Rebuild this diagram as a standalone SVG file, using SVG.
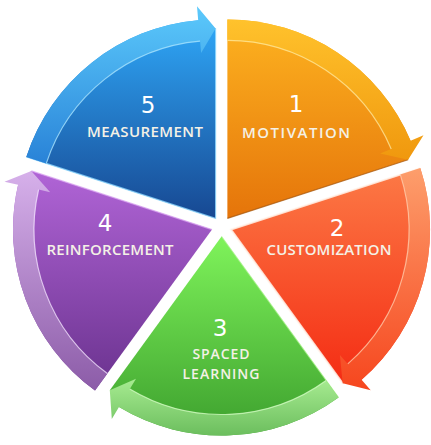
<svg xmlns="http://www.w3.org/2000/svg" width="431" height="445" viewBox="0 0 431 445">
<defs>
<linearGradient id="gMotB" gradientUnits="userSpaceOnUse" x1="0" y1="20" x2="0" y2="218"><stop offset="0" stop-color="#fdb320"/><stop offset="1" stop-color="#e5740a"/></linearGradient>
<linearGradient id="gMotR" gradientUnits="userSpaceOnUse" x1="0" y1="20" x2="0" y2="160"><stop offset="0" stop-color="#ffc22c"/><stop offset="1" stop-color="#f0980e"/></linearGradient>
<linearGradient id="gCusB" gradientUnits="userSpaceOnUse" x1="0" y1="168" x2="0" y2="390"><stop offset="0" stop-color="#fc7a46"/><stop offset="1" stop-color="#f42a12"/></linearGradient>
<linearGradient id="gCusR" gradientUnits="userSpaceOnUse" x1="0" y1="168" x2="0" y2="390"><stop offset="0" stop-color="#fd9e6c"/><stop offset="1" stop-color="#f6461e"/></linearGradient>
<linearGradient id="gSpaB" gradientUnits="userSpaceOnUse" x1="0" y1="240" x2="0" y2="437"><stop offset="0" stop-color="#7ef25a"/><stop offset="1" stop-color="#3c9f2d"/></linearGradient>
<linearGradient id="gSpaR" gradientUnits="userSpaceOnUse" x1="0" y1="378" x2="0" y2="437"><stop offset="0" stop-color="#a8ec92"/><stop offset="1" stop-color="#6abd5c"/></linearGradient>
<linearGradient id="gReiB" gradientUnits="userSpaceOnUse" x1="0" y1="172" x2="0" y2="390"><stop offset="0" stop-color="#b064d6"/><stop offset="1" stop-color="#6a328e"/></linearGradient>
<linearGradient id="gReiR" gradientUnits="userSpaceOnUse" x1="0" y1="172" x2="0" y2="390"><stop offset="0" stop-color="#d6b0ea"/><stop offset="1" stop-color="#8c5ca8"/></linearGradient>
<linearGradient id="gMeaB" gradientUnits="userSpaceOnUse" x1="0" y1="20" x2="0" y2="218"><stop offset="0" stop-color="#2fa8f8"/><stop offset="1" stop-color="#174892"/></linearGradient>
<linearGradient id="gMeaR" gradientUnits="userSpaceOnUse" x1="0" y1="5" x2="0" y2="160"><stop offset="0" stop-color="#5ccafc"/><stop offset="1" stop-color="#2a84d8"/></linearGradient>
</defs>
<style>
.num{font-family:"DejaVu Sans",sans-serif;font-size:23px;fill:#ffffff;text-anchor:middle}
.lbl{font-family:"Open Sans","Liberation Sans",sans-serif;font-size:15px;font-weight:600;fill:#f4f1e6;text-anchor:middle}
.lbl2{font-size:14px}
.rim{stroke-width:1.2;stroke-opacity:0.75;fill:none}
</style>
<g id="node-1">
<path d="M227.4,218.4 L227.4,19.4 A199,199 0 0 1 410.6,140.7 L408.1,159.7 Z" fill="url(#gMotB)"/>
<path d="M227.4,218.4 L408.1,159.7" class="rim" stroke="#a85a10"/>
<text class="num" x="296" y="112">1</text>
<text class="lbl" x="296" y="138" textLength="108">MOTIVATION</text>
</g>
<g id="node-2">
<path d="M231,229.6 L420.3,168.1 A199,199 0 0 1 361.6,379.8 L342.7,383.3 Z" fill="url(#gCusB)"/>
<path d="M342.7,383.3 L231,229.6 L420.3,168.1" fill="none" stroke="#fff4ec" stroke-width="2" stroke-opacity="0.85"/>
<text class="num" x="337" y="236">2</text>
<text class="lbl" x="329" y="255" textLength="125">CUSTOMIZATION</text>
</g>
<g id="node-3">
<path d="M221.5,236.5 L338.5,397.5 A199,199 0 0 1 119.0,407.1 L109.8,390.2 Z" fill="url(#gSpaB)"/>
<path class="rim" d="M221.5,236.5 L338.5,397.5" stroke="#a0f080"/>
<text class="num" x="220" y="336">3</text>
<text class="lbl lbl2" x="221" y="359" textLength="57">SPACED</text>
<text class="lbl lbl2" x="221" y="379" textLength="77">LEARNING</text>
</g>
<g id="node-4">
<path d="M212,229.6 L95.0,390.6 A199,199 0 0 1 18.1,184.8 L31.3,170.9 Z" fill="url(#gReiB)"/>
<path class="rim" d="M31.3,170.9 L212,229.6" stroke="#d8a0f0"/>
<text class="num" x="105" y="231">4</text>
<text class="lbl" x="110" y="255" textLength="127">REINFORCEMENT</text>
</g>
<g id="node-5">
<path d="M215.6,218.4 L26.3,156.9 A199,199 0 0 1 198.2,20.2 L215.6,28.4 Z" fill="url(#gMeaB)"/>
<path class="rim" d="M26.3,156.9 L215.6,218.4 L215.6,28.4" stroke="#8cd8ff"/>
<text class="num" x="148" y="113">5</text>
<text class="lbl" x="145" y="137" textLength="116">MEASUREMENT</text>
</g>
<g id="connectors">
<path id="arrow-1" d="M227.4,19.4 A199,199 0 0 1 410.6,140.7 L423.5,135.2 L408.1,159.7 L380.2,153.5 L391.2,148.9 A178,178 0 0 0 227.4,40.4 Z" fill="url(#gMotR)"/>
<path class="rim" d="M391.2,148.9 A178,178 0 0 0 227.4,40.4" stroke="#ffe9a0"/>
<path id="arrow-2" d="M420.3,168.1 A199,199 0 0 1 361.6,379.8 L370.7,390.3 L342.7,383.3 L339.9,354.9 L347.8,363.9 A178,178 0 0 0 400.3,174.6 Z" fill="url(#gCusR)"/>
<path class="rim" d="M347.8,363.9 A178,178 0 0 0 400.3,174.6" stroke="#ffd0b0"/>
<path id="arrow-3" d="M338.5,397.5 A199,199 0 0 1 119.0,407.1 L111.8,419.1 L109.8,390.2 L136.0,378.8 L129.8,389.1 A178,178 0 0 0 326.1,380.5 Z" fill="url(#gSpaR)"/>
<path class="rim" d="M129.8,389.1 A178,178 0 0 0 326.1,380.5" stroke="#d8ffc8"/>
<path id="arrow-4" d="M95.0,390.6 A199,199 0 0 1 18.1,184.8 L4.5,181.7 L31.3,170.9 L50.2,192.2 L38.6,189.5 A178,178 0 0 0 107.4,373.6 Z" fill="url(#gReiR)"/>
<path class="rim" d="M38.6,189.5 A178,178 0 0 0 107.4,373.6" stroke="#f4e4ff"/>
<path id="arrow-5" d="M26.3,156.9 A199,199 0 0 1 198.2,20.2 L197.0,6.2 L215.6,28.4 L201.1,53.0 L200.1,41.1 A178,178 0 0 0 46.3,163.4 Z" fill="url(#gMeaR)"/>
<path class="rim" d="M200.1,41.1 A178,178 0 0 0 46.3,163.4" stroke="#b0e8ff"/>
</g>
</svg>
